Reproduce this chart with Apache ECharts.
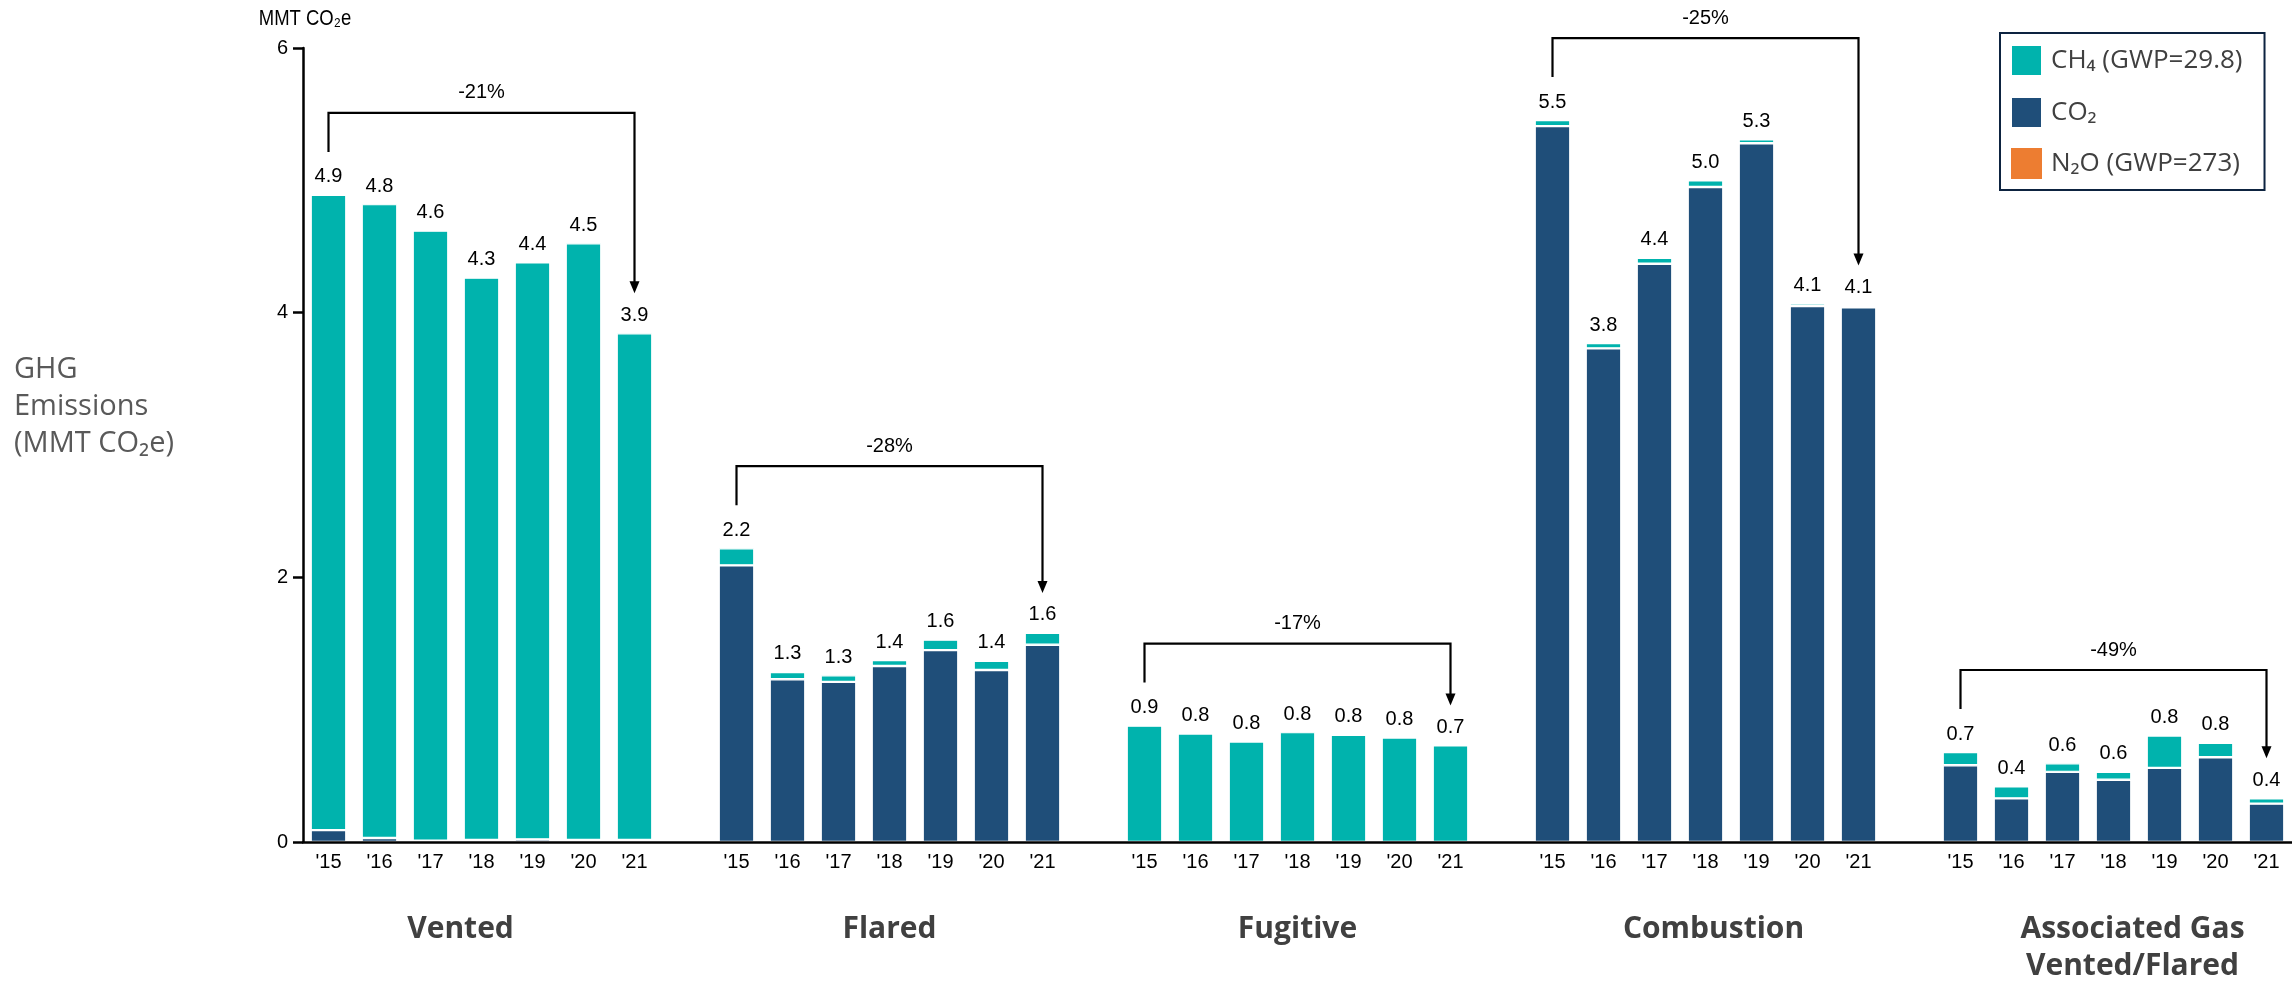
<!DOCTYPE html>
<html><head><meta charset="utf-8">
<script src="https://cdn.jsdelivr.net/npm/echarts@6/dist/echarts.min.js"></script>
<style>html,body{margin:0;padding:0;background:#fff;overflow:hidden}#c{width:2292px;height:984px}</style>
</head><body><div id="c"></div>
<script>
// ---- data ----
const years = ["'15", "'16", "'17", "'18", "'19", "'20", "'21"];
const groupNames = ['Vented', 'Flared', 'Fugitive', 'Combustion', 'Associated Gas\nVented/Flared'];

const ventedCO2 = [0.09, 0.03, 0.01, 0.015, 0.02, 0.015, 0.015];
const ventedCH4 = [4.80, 4.79, 4.61, 4.25, 4.36, 4.51, 3.83];
const ventedTotal = ['4.9', '4.8', '4.6', '4.3', '4.4', '4.5', '3.9'];

const flaredCO2 = [2.09, 1.23, 1.21, 1.33, 1.45, 1.30, 1.49];
const flaredCH4 = [0.13, 0.055, 0.05, 0.045, 0.08, 0.07, 0.09];
const flaredTotal = ['2.2', '1.3', '1.3', '1.4', '1.6', '1.4', '1.6'];

const fugitiveCO2 = [0, 0, 0, 0, 0, 0, 0];
const fugitiveCH4 = [0.88, 0.82, 0.76, 0.83, 0.81, 0.79, 0.73];
const fugitiveTotal = ['0.9', '0.8', '0.8', '0.8', '0.8', '0.8', '0.7'];

const combustionCO2 = [5.41, 3.73, 4.37, 4.95, 5.28, 4.05, 4.04];
const combustionCH4 = [0.045, 0.04, 0.045, 0.05, 0.03, 0.02, 0.015];
const combustionTotal = ['5.5', '3.8', '4.4', '5.0', '5.3', '4.1', '4.1'];

const assocCO2 = [0.58, 0.33, 0.53, 0.47, 0.56, 0.64, 0.29];
const assocCH4 = [0.10, 0.09, 0.065, 0.06, 0.245, 0.11, 0.04];
const assocTotal = ['0.7', '0.4', '0.6', '0.6', '0.8', '0.8', '0.4'];

const pctChange = ['-21%', '-28%', '-17%', '-25%', '-49%'];
const yMin = 0, yMax = 6, yInterval = 2;

const seriesNames = ['CH\u2084 (GWP=29.8)', 'CO\u2082', 'N\u2082O (GWP=273)'];

// ---- build the 39-slot category axis (7 bars + 1 gap per group) ----
const groupCO2 = [ventedCO2, flaredCO2, fugitiveCO2, combustionCO2, assocCO2];
const groupCH4 = [ventedCH4, flaredCH4, fugitiveCH4, combustionCH4, assocCH4];
const groupTotal = [ventedTotal, flaredTotal, fugitiveTotal, combustionTotal, assocTotal];

const categories = [], co2Data = [], ch4Data = [], totalLabels = [], groupAxis = [], bracketData = [];
groupNames.forEach((g, gi) => {
  const start = categories.length;
  years.forEach((y, yi) => {
    categories.push(y);
    co2Data.push(groupCO2[gi][yi]);
    ch4Data.push(groupCH4[gi][yi]);
    totalLabels.push(groupTotal[gi][yi]);
    groupAxis.push(yi === 3 ? g : '');
  });
  const end = categories.length - 1;
  bracketData.push([start, end,
    groupCO2[gi][0] + groupCH4[gi][0],
    groupCO2[gi][6] + groupCH4[gi][6]]);
  if (gi < groupNames.length - 1) {
    categories.push(''); co2Data.push('-'); ch4Data.push('-'); totalLabels.push(''); groupAxis.push('');
  }
});

const TEAL = '#00b3ad', NAVY = '#1f4e79', ORANGE = '#ed7d31';
const NUMFONT = "'Liberation Sans', Arial, sans-serif";
const SEGOE = "'Open Sans', 'Noto Sans', sans-serif";

// small horizontal nudges of the group titles (layout only)
const groupLabelRich = {
  g0: {padding: [0, 42, 0, 0]},
  g1: {padding: [0, 0, 0, 0]},
  g2: {padding: [0, 0, 0, 0]},
  g3: {padding: [0, 0, 0, 16]},
  g4: {padding: [0, 0, 0, 38]}
};
Object.keys(groupLabelRich).forEach(k => Object.assign(groupLabelRich[k],
  {fontSize: 30, fontWeight: 'bold', color: '#404040', fontFamily: SEGOE, lineHeight: 37}));

const chart = echarts.init(document.getElementById('c'), null, {renderer: 'canvas'});
chart.setOption({
  animation: false,
  backgroundColor: '#fff',
  grid: {left: 303, right: 0, top: 48, bottom: 142, containLabel: false, outerBoundsMode: 'none'},
  legend: {
    data: seriesNames,
    orient: 'vertical', left: 2000, top: 33,
    itemWidth: 31, itemHeight: 31, itemGap: 19,
    padding: [11, 22, 11, 10],
    borderColor: '#0d2340', borderWidth: 2,
    icon: 'rect', selectedMode: false,
    textStyle: {fontSize: 26, color: '#404040', fontFamily: SEGOE, padding: [0, 0, 0, 4]}
  },
  graphic: [{
    type: 'text', left: 14, top: 351,
    style: {text: 'GHG\nEmissions\n(MMT CO\u2082e)', font: "29px 'Open Sans', 'Noto Sans', sans-serif", fill: '#595959', lineHeight: 37}
  }, {
    type: 'text', x: 305, y: 19, scaleX: 0.84,
    style: {text: 'MMT CO\u2082e', font: "22px 'Liberation Sans', Arial, sans-serif", fill: '#000', align: 'center', verticalAlign: 'middle'}
  }],
  xAxis: [{
    type: 'category', data: categories, z: 5,
    axisLine: {lineStyle: {color: '#000', width: 2.5}},
    axisTick: {show: false},
    axisLabel: {interval: 0, fontSize: 20, color: '#000', fontFamily: NUMFONT, margin: 10}
  }, {
    type: 'category', data: groupAxis, position: 'bottom', offset: 0,
    axisLine: {show: false}, axisTick: {show: false}, splitLine: {show: false},
    axisLabel: {interval: 0, fontSize: 30, fontWeight: 'bold', color: '#404040', fontFamily: SEGOE,
      margin: 69, verticalAlign: 'top', lineHeight: 37, align: 'center',
      rich: groupLabelRich,
      formatter: function (v) {
        const gi = groupNames.indexOf(v);
        if (gi < 0) return '';
        return v.split('\n').map(s => '{g' + gi + '|' + s + '}').join('\n');
      }}
  }],
  yAxis: {
    type: 'value', min: yMin, max: yMax, interval: yInterval,
    axisLine: {show: true, lineStyle: {color: '#000', width: 2.5}},
    axisTick: {show: true, length: 10, lineStyle: {color: '#000', width: 2.5}},
    axisLabel: {fontSize: 20, color: '#000', fontFamily: NUMFONT, margin: 15},
    splitLine: {show: false}
  },
  series: [{
    name: seriesNames[1], type: 'bar', stack: 'ghg', data: co2Data, barWidth: '70%',
    itemStyle: {color: NAVY, borderColor: '#fff', borderWidth: 1.2}
  }, {
    name: seriesNames[0], type: 'bar', stack: 'ghg', data: ch4Data, barWidth: '70%',
    itemStyle: {color: TEAL, borderColor: '#fff', borderWidth: 1.2},
    label: {show: true, position: 'top', distance: 8, fontSize: 20, color: '#000', fontFamily: NUMFONT,
      formatter: p => totalLabels[p.dataIndex]}
  }, {
    name: seriesNames[2], type: 'bar', stack: 'ghg', data: [], barWidth: '70%',
    itemStyle: {color: ORANGE}
  }, {
    type: 'custom', data: bracketData, clip: false, silent: true, z: 10,
    encode: {x: 0, y: 2},
    renderItem: function (params, api) {
      const p0 = api.coord([api.value(0), api.value(2)]);
      const p1 = api.coord([api.value(1), api.value(3)]);
      const yLine = p0[1] - 82;
      const yLeft = p0[1] - 43;
      const yTip = p1[1] - 40;
      return {type: 'group', children: [
        {type: 'polyline', shape: {points: [[p0[0], yLeft], [p0[0], yLine], [p1[0], yLine], [p1[0], yTip - 10]]},
          style: {stroke: '#000', lineWidth: 2.2, fill: null}},
        {type: 'polygon', shape: {points: [[p1[0] - 5, yTip - 12], [p1[0] + 5, yTip - 12], [p1[0], yTip]]},
          style: {fill: '#000'}},
        {type: 'text', x: (p0[0] + p1[0]) / 2, y: yLine - 20,
          style: {text: pctChange[params.dataIndex], fontSize: 20, fontFamily: NUMFONT, fill: '#000',
            align: 'center', verticalAlign: 'middle'}}
      ]};
    }
  }]
});
</script></body></html>
